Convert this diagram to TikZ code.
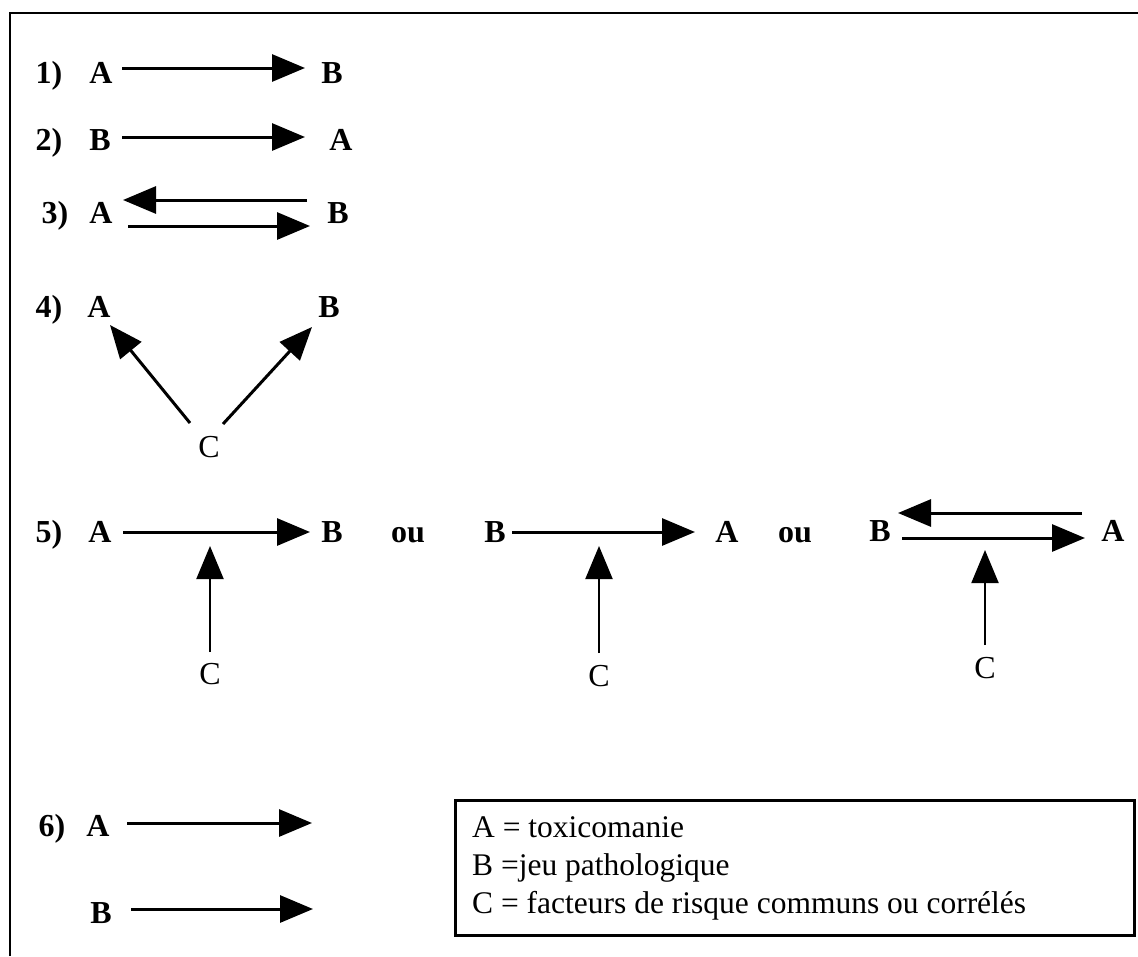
\documentclass[tikz,border=0pt]{standalone}
\usepackage{fontspec}
\setmainfont{Liberation Serif}
\usetikzlibrary{arrows.meta}
\begin{document}
\begin{tikzpicture}[x=1pt,y=-1pt,
  lab/.style={font=\fontsize{32}{38}\selectfont\bfseries, inner sep=0pt, anchor=base},
  labc/.style={font=\fontsize{32}{38}\selectfont, inner sep=0pt, anchor=base},
  leg/.style={font=\fontsize{31.5}{38}\selectfont, inner sep=0pt, anchor=base west},
  arr/.style={line width=3pt, -{Triangle[length=33pt,width=27pt]}},
  varr/.style={line width=2pt, -{Triangle[length=33pt,width=27pt]}},
  frame/.style={line width=2.8pt},
]
\useasboundingbox (0,0) rectangle (1138,956);
\fill[white] (0,0) rectangle (1138,956);
% frame
\coordinate (fbl) at (10,956);
\coordinate (ftl) at (10,13);
\coordinate (ftr) at (1138,13);
\draw[frame] (fbl) -- (ftl) -- (ftr);

% row 1
\node[lab] (n1) at (49,83) {1)};
\node[lab] (a1) at (101,83) {A};
\node[lab] (b1) at (332,83) {B};
\coordinate (r1s) at (122,68);
\coordinate (r1e) at (305,68);
\draw[arr] (r1s) -- (r1e);

% row 2
\node[lab] (n2) at (49,150) {2)};
\node[lab] (b2) at (100,150) {B};
\node[lab] (a2) at (341,150) {A};
\coordinate (r2s) at (122,137);
\coordinate (r2e) at (305,137);
\draw[arr] (r2s) -- (r2e);

% row 3
\node[lab] (n3) at (55,223) {3)};
\node[lab] (a3) at (101,223) {A};
\node[lab] (b3) at (338,223) {B};
\coordinate (r3us) at (307,200);
\coordinate (r3ue) at (123,200);
\coordinate (r3ls) at (128,226);
\coordinate (r3le) at (310,226);
\draw[arr] (r3us) -- (r3ue);
\draw[arr] (r3ls) -- (r3le);

% row 4
\node[lab] (n4) at (49,317) {4)};
\node[lab] (a4) at (99,317) {A};
\node[lab] (b4) at (329,317) {B};
\node[labc] (c4) at (209,457) {C};
\coordinate (r4as) at (190,423);
\coordinate (r4ae) at (110,325);
\coordinate (r4bs) at (223,424);
\coordinate (r4be) at (312,327);
\draw[arr] (r4as) -- (r4ae);
\draw[arr] (r4bs) -- (r4be);

% row 5
\node[lab] (n5) at (49,542) {5)};
\node[lab] (a5) at (100,542) {A};
\node[lab] (b5) at (332,542) {B};
\node[lab] (ou1) at (408,542) {ou};
\node[lab] (b5b) at (495,542) {B};
\node[lab] (a5b) at (727,542) {A};
\node[lab] (ou2) at (795,542) {ou};
\node[lab] (b5c) at (880,541) {B};
\node[lab] (a5c) at (1113,541) {A};
\node[labc] (c5a) at (210,684) {C};
\node[labc] (c5b) at (599,686) {C};
\node[labc] (c5c) at (985,678) {C};
\coordinate (r5as) at (123,532);
\coordinate (r5ae) at (310,532);
\draw[arr] (r5as) -- (r5ae);
\coordinate (r5bs) at (512,532);
\coordinate (r5be) at (695,532);
\draw[arr] (r5bs) -- (r5be);
\coordinate (r5cus) at (1082,513);
\coordinate (r5cue) at (898,513);
\coordinate (r5cls) at (902,538);
\coordinate (r5cle) at (1085,538);
\draw[arr] (r5cus) -- (r5cue);
\draw[arr] (r5cls) -- (r5cle);
\coordinate (v1s) at (210,652);
\coordinate (v1e) at (210,546);
\coordinate (v2s) at (599,653);
\coordinate (v2e) at (599,546);
\coordinate (v3s) at (985,645);
\coordinate (v3e) at (985,550);
\draw[varr] (v1s) -- (v1e);
\draw[varr] (v2s) -- (v2e);
\draw[varr] (v3s) -- (v3e);

% row 6
\node[lab] (n6) at (52,836) {6)};
\node[lab] (a6) at (98,836) {A};
\node[lab] (b6) at (101,923) {B};
\coordinate (r6as) at (127,823);
\coordinate (r6ae) at (312,823);
\coordinate (r6bs) at (131,909);
\coordinate (r6be) at (313,909);
\draw[arr] (r6as) -- (r6ae);
\draw[arr] (r6bs) -- (r6be);

% legend
\node[draw, line width=2.5pt, minimum width=679pt, minimum height=135pt, inner sep=0pt, anchor=north west] (legend) at (454,799) {};
\node[leg] (l1) at (472,837) {A = toxicomanie};
\node[leg] (l2) at (472,875) {B =jeu pathologique};
\node[leg] (l3) at (472,913) {C = facteurs de risque communs ou corrélés};
\end{tikzpicture}
\end{document}
